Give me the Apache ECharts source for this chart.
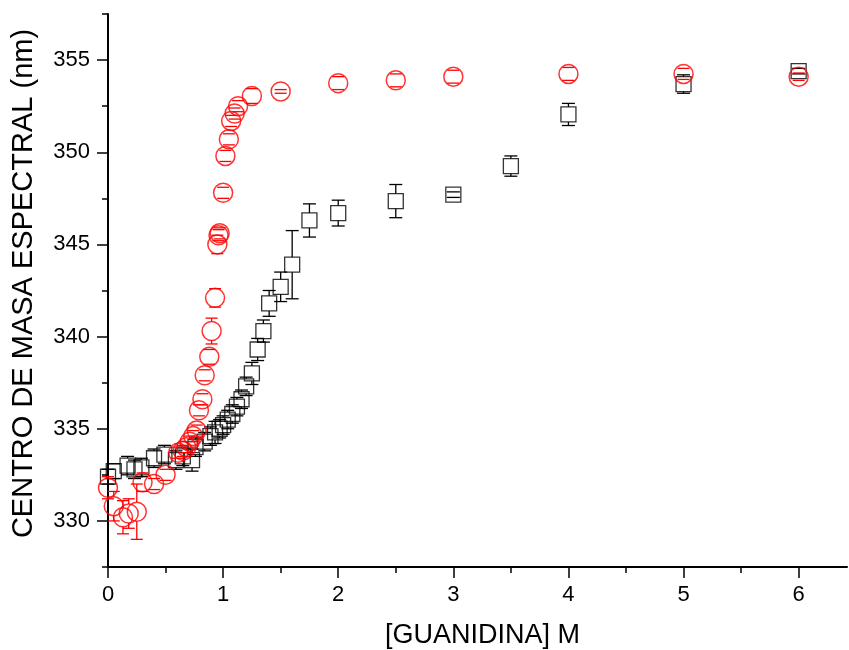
<!DOCTYPE html>
<html>
<head>
<meta charset="utf-8">
<script src="https://cdn.jsdelivr.net/npm/echarts@6/dist/echarts.min.js"></script>
<style>html,body{margin:0;padding:0;background:#fff;}#chart{width:849px;height:650px;}</style>
</head>
<body>
<div id="chart"></div>
<script>
// Black squares series
var blackX   = [0.00, 0.05, 0.17, 0.23, 0.29, 0.40, 0.49, 0.59, 0.65, 0.73, 0.76, 0.84, 0.89, 0.93, 0.97, 1.00, 1.04, 1.08, 1.12, 1.16, 1.20, 1.25, 1.30, 1.35, 1.40, 1.50, 1.60, 1.75, 2.00, 2.50, 3.00, 3.50, 4.00, 5.00, 6.00];
var blackY   = [332.4, 332.7, 333.0, 332.8, 332.9, 333.4, 333.6, 333.3, 333.5, 333.3, 334.0, 334.3, 334.6, 334.8, 335.0, 335.2, 335.5, 335.8, 336.2, 336.6, 337.3, 338.0, 339.3, 340.3, 341.8, 342.7, 343.9, 346.3, 346.7, 347.35, 347.7, 349.25, 352.05, 353.7, 354.4];
var blackErr = [0.4, 0.4, 0.5, 0.5, 0.5, 0.5, 0.5, 0.5, 0.5, 0.6, 0.5, 0.5, 0.5, 0.6, 0.5, 0.5, 0.5, 0.5, 0.5, 0.5, 0.5, 0.6, 0.6, 0.6, 0.7, 0.8, 1.85, 0.9, 0.7, 0.9, 0.15, 0.55, 0.6, 0.5, 0.15];
// Red circles series
var redX   = [0.00, 0.05, 0.13, 0.18, 0.25, 0.30, 0.40, 0.50, 0.61, 0.65, 0.68, 0.71, 0.74, 0.77, 0.79, 0.82, 0.84, 0.88, 0.90, 0.93, 0.95, 0.96, 0.97, 1.00, 1.02, 1.05, 1.07, 1.10, 1.13, 1.25, 1.50, 2.00, 2.50, 3.00, 4.00, 5.00, 6.00];
var redY   = [331.8, 330.8, 330.2, 330.4, 330.5, 332.1, 332.0, 332.5, 333.7, 333.8, 334.0, 334.3, 334.6, 334.9, 336.0, 336.6, 337.9, 338.9, 340.3, 342.1, 345.0, 345.5, 345.6, 347.8, 349.8, 350.7, 351.7, 352.1, 352.5, 353.05, 353.3, 353.75, 353.9, 354.1, 354.25, 354.25, 354.1];
var redErr = [0.6, 0.8, 0.9, 0.8, 1.5, 0.5, 0.3, 0.3, 0.3, 0.3, 0.3, 0.3, 0.3, 0.3, 0.3, 0.3, 0.3, 0.4, 0.7, 0.5, 0.5, 0.3, 0.3, 0.3, 0.3, 0.3, 0.3, 0.3, 0.3, 0.4, 0.1, 0.35, 0.35, 0.35, 0.35, 0.3, 0.2];
// Tick labels (major ticks)
var xMajorTicks = [0, 1, 2, 3, 4, 5, 6];
var yMajorTicks = [330, 335, 340, 345, 350, 355];
// Axis titles
var xTitle = '[GUANIDINA] M';
var yTitle = 'CENTRO DE MASA ESPECTRAL (nm)';

function zip(xs, ys, es) {
  var out = [];
  for (var i = 0; i < xs.length; i++) out.push([xs[i], ys[i], es[i]]);
  return out;
}
var blackData = zip(blackX, blackY, blackErr);
var redData = zip(redX, redY, redErr);

function errRender(half, color, capW, lw) {
  return function (params, api) {
    var x = api.value(0), y = api.value(1), e = api.value(2);
    var c = api.coord([x, y]);
    var t = api.coord([x, y + e]);
    var b = api.coord([x, y - e]);
    var style = { stroke: color, lineWidth: lw, fill: null };
    var ch = [];
    if (t[1] < c[1] - half) ch.push({ type: 'line', shape: { x1: c[0], y1: t[1], x2: c[0], y2: c[1] - half }, style: style });
    if (b[1] > c[1] + half) ch.push({ type: 'line', shape: { x1: c[0], y1: c[1] + half, x2: c[0], y2: b[1] }, style: style });
    ch.push({ type: 'line', shape: { x1: c[0] - capW / 2, y1: t[1], x2: c[0] + capW / 2, y2: t[1] }, style: style });
    ch.push({ type: 'line', shape: { x1: c[0] - capW / 2, y1: b[1], x2: c[0] + capW / 2, y2: b[1] }, style: style });
    return { type: 'group', children: ch };
  };
}

function isIn(list, v) {
  for (var i = 0; i < list.length; i++) if (Math.abs(list[i] - v) < 1e-6) return true;
  return false;
}

var FONT = '"Liberation Sans", Arial, sans-serif';
var XMIN = 0, XMAX = 6.42, YMIN = 327.5, YMAX = 357.5;
var chart = echarts.init(document.getElementById('chart'), null, { renderer: 'canvas' });
chart.setOption({
  animation: false,
  backgroundColor: '#ffffff',
  grid: { left: 108, right: 2, top: 14, bottom: 83, containLabel: false, outerBoundsMode: 'none' },
  xAxis: [{
    type: 'value', min: XMIN, max: XMAX, interval: 0.5,
    name: xTitle, nameLocation: 'middle', nameGap: 55,
    nameTextStyle: { fontFamily: FONT, fontSize: 27, color: '#000', padding: [0, 0, 0, 10] },
    axisLine: { show: true, onZero: false, lineStyle: { color: '#000', width: 2 } },
    axisTick: { show: true, inside: false, length: 6, lineStyle: { color: '#000', width: 1.5 } },
    axisLabel: {
      show: true, margin: 17, fontFamily: FONT, fontSize: 22, color: '#000',
      showMaxLabel: false,
      formatter: function (v) { return isIn(xMajorTicks, v) ? String(Math.round(v)) : ''; }
    },
    splitLine: { show: false }
  }, {
    type: 'value', min: XMIN, max: XMAX, position: 'bottom', offset: 0, interval: 0.5,
    axisLine: { show: false },
    axisTick: { show: true, inside: false, length: 11, customValues: xMajorTicks, lineStyle: { color: '#000', width: 1.5 } },
    axisLabel: { show: false },
    splitLine: { show: false }
  }],
  yAxis: [{
    type: 'value', min: YMIN, max: YMAX, interval: 2.5,
    name: yTitle, nameLocation: 'middle', nameGap: 70, nameRotate: 90,
    nameTextStyle: { fontFamily: FONT, fontSize: 29, color: '#000', padding: [0, 0, 0, 14] },
    axisLine: { show: true, onZero: false, lineStyle: { color: '#000', width: 2 } },
    axisTick: { show: true, inside: false, length: 6, lineStyle: { color: '#000', width: 1.5 } },
    axisLabel: {
      show: true, margin: 18, fontFamily: FONT, fontSize: 22, color: '#000',
      formatter: function (v) { return isIn(yMajorTicks, v) ? String(Math.round(v)) : ''; }
    },
    splitLine: { show: false }
  }, {
    type: 'value', min: YMIN, max: YMAX, position: 'left', offset: 0, interval: 2.5,
    axisLine: { show: false },
    axisTick: { show: true, inside: false, length: 11, customValues: yMajorTicks, lineStyle: { color: '#000', width: 1.5 } },
    axisLabel: { show: false },
    splitLine: { show: false }
  }],
  series: [
    {
      type: 'custom', name: 'errBlack', data: blackData, z: 2,
      renderItem: errRender(7.5, '#000000', 13, 1.3),
      encode: { x: 0, y: 1 }
    },
    {
      type: 'scatter', name: 'black', data: blackData, z: 3,
      symbol: 'rect', symbolSize: 15,
      itemStyle: { color: 'rgba(0,0,0,0)', borderColor: '#000000', borderWidth: 1.3 }
    },
    {
      type: 'custom', name: 'errRed', data: redData, z: 4,
      renderItem: errRender(9.5, '#ff0000', 12, 1.3),
      encode: { x: 0, y: 1 }
    },
    {
      type: 'scatter', name: 'red', data: redData, z: 5,
      symbol: 'circle', symbolSize: 19,
      itemStyle: { color: 'rgba(0,0,0,0)', borderColor: '#ff0000', borderWidth: 1.5 }
    }
  ]
});
</script>
</body>
</html>
